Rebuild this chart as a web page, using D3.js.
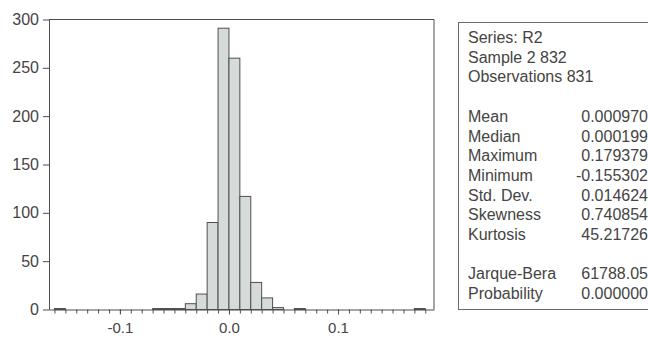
<!DOCTYPE html>
<html>
<head>
<meta charset="utf-8">
<script src="https://cdn.jsdelivr.net/npm/d3@7"></script>
<style>
  body { margin: 0; background: #fff; }
  svg { font-family: "Liberation Sans", Arial, sans-serif; }
</style>
</head>
<body>
<div id="chart"></div>
<script>
// histogram bins (lower edge) and counts, bin width 0.01
const binStarts = [-0.16, -0.07, -0.06, -0.05, -0.04, -0.03, -0.02, -0.01, 0.00, 0.01, 0.02, 0.03, 0.04, 0.06, 0.17];
const counts    = [1, 1, 1, 1, 6, 16, 90, 291, 260, 117, 28, 12, 2, 1, 1];
const binWidth = 0.01;

const xTicks = [-0.1, 0.0, 0.1];
const yTicks = [0, 50, 100, 150, 200, 250, 300];

const headerLines = ["Series: R2", "Sample 2 832", "Observations 831"];
const statNames  = ["Mean", "Median", "Maximum", "Minimum", "Std. Dev.", "Skewness", "Kurtosis"];
const statValues = ["0.000970", "0.000199", "0.179379", "-0.155302", "0.014624", "0.740854", "45.21726"];
const testNames  = ["Jarque-Bera", "Probability"];
const testValues = ["61788.05", "0.000000"];

const width = 648, height = 339;
const svg = d3.select("#chart").append("svg")
    .attr("width", width)
    .attr("height", height);

const x = d3.scaleLinear().domain([-0.165, 0.188]).range([49, 434]);
const y = d3.scaleLinear().domain([0, 300]).range([309.5, 19.5]);

const axisColor = "#4d4d4d";
const textColor = "#444";

// bars
const data = binStarts.map((b, i) => ({x0: b, x1: b + binWidth, n: counts[i]}));
svg.append("g").selectAll("rect")
    .data(data)
    .enter()
    .append("rect")
    .attr("x", d => x(d.x0))
    .attr("y", d => y(d.n))
    .attr("width", d => x(d.x1) - x(d.x0))
    .attr("height", d => y(0) - y(d.n))
    .attr("fill", "#d4dbd8")
    .attr("stroke", "#505050")
    .attr("stroke-width", 1);

// frame (top and right)
svg.append("path")
    .attr("d", `M${x.range()[0]},${y(300)}H${x.range()[1]}V${y(0)}`)
    .attr("fill", "none")
    .attr("stroke", axisColor);

// y axis
const yAxis = svg.append("g")
    .attr("transform", `translate(${x.range()[0]},0)`)
    .call(d3.axisLeft(y).tickValues(yTicks).tickSize(6).tickPadding(4).tickSizeOuter(0));
yAxis.selectAll("text").attr("font-size", 16).attr("fill", textColor).attr("font-family", null);

// x axis with minor ticks every 0.01
const minor = d3.range(-16, 19).map(k => k / 100);
const xAxisMinor = svg.append("g")
    .attr("transform", `translate(0,${y(0)})`)
    .call(d3.axisBottom(x).tickValues(minor).tickSize(4).tickFormat("").tickSizeOuter(0));
xAxisMinor.select(".domain").remove();

const xAxis = svg.append("g")
    .attr("transform", `translate(0,${y(0)})`)
    .call(d3.axisBottom(x).tickValues(xTicks).tickSize(5).tickPadding(8)
        .tickFormat(d => d.toFixed(1)).tickSizeOuter(0));
xAxis.selectAll("text").attr("font-size", 15).attr("fill", textColor).attr("font-family", null);

svg.selectAll(".domain, .tick line").attr("stroke", axisColor);

// statistics box
const box = svg.append("g");
box.append("rect")
    .attr("x", 458.5).attr("y", 22.5)
    .attr("width", 220).attr("height", 287)
    .attr("fill", "none")
    .attr("stroke", "#6a6a6a");

const lineH = 19.7, top0 = 43, leftX = 468, rightX = 648;
const rows = [];
headerLines.forEach((t, i) => rows.push({row: i, label: t, value: null}));
statNames.forEach((t, i) => rows.push({row: 4 + i, label: t, value: statValues[i]}));
testNames.forEach((t, i) => rows.push({row: 12 + i, label: t, value: testValues[i]}));

box.selectAll("text.lab")
    .data(rows)
    .enter()
    .append("text")
    .attr("class", "lab")
    .attr("x", leftX)
    .attr("y", d => top0 + d.row * lineH)
    .attr("font-size", 16)
    .attr("fill", textColor)
    .text(d => d.label);

box.selectAll("text.val")
    .data(rows.filter(d => d.value !== null))
    .enter()
    .append("text")
    .attr("class", "val")
    .attr("x", rightX)
    .attr("y", d => top0 + d.row * lineH)
    .attr("text-anchor", "end")
    .attr("font-size", 16)
    .attr("fill", textColor)
    .text(d => d.value);
</script>
</body>
</html>
